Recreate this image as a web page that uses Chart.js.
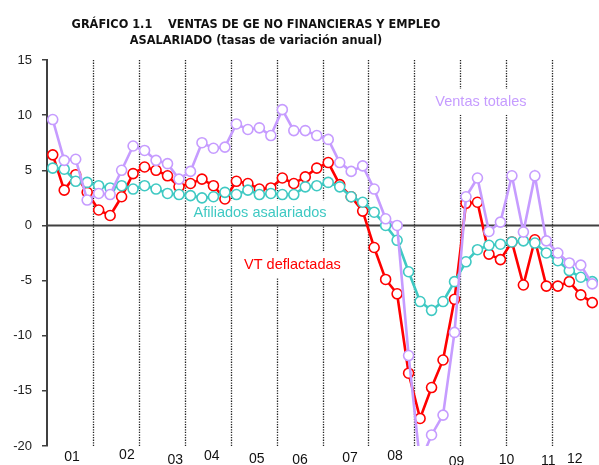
<!DOCTYPE html>
<html>
<head>
<meta charset="utf-8">
<script src="https://cdn.jsdelivr.net/npm/chart.js@4.4.0/dist/chart.umd.min.js"></script>
<style>
  html, body { margin: 0; padding: 0; background: #fff; }
</style>
</head>
<body>
<canvas id="chart" width="599" height="465"></canvas>
<script>
// years shown under the axis, quarterly data 2001-2012
const years = ['01', '02', '03', '04', '05', '06', '07', '08', '09', '10', '11', '12'];
const quarters = [];
years.forEach(y => { for (let q = 1; q <= 4; q++) quarters.push(y + '-T' + q); });

const ventasTotales = [
  9.6, 5.9, 6.0, 2.3,   2.9, 2.8, 5.0, 7.2,   6.8, 5.9, 5.6, 4.2,
  4.9, 7.5, 7.0, 7.1,   9.2, 8.7, 8.85, 8.15, 10.5, 8.6, 8.6, 8.15,
  7.8, 5.7, 4.9, 5.4,   3.3, 0.6, 0.0, -11.8, -21.5, -19.0, -17.2, -9.7,
  2.6, 4.3, -0.55, 0.3, 4.5, -0.6, 4.5, -1.4, -2.5, -3.4, -3.6, -5.3
];
const vtDeflactadas = [
  6.4, 3.2, 4.6, 3.0,   1.4, 0.9, 2.6, 4.7,   5.3, 5.0, 4.5, 3.5,
  3.8, 4.2, 3.6, 2.4,   4.0, 3.8, 3.3, 3.4,   4.3, 3.8, 4.4, 5.2,
  5.7, 3.7, 2.6, 1.3,   -2.0, -4.9, -6.2, -13.4, -17.5, -14.7, -12.2, -6.7,
  2.0, 2.1, -2.6, -3.1, -1.5, -5.4, -1.3, -5.5, -5.5, -5.1, -6.3, -7.0
];
const afiliados = [
  5.2, 5.1, 4.0, 3.9,   3.6, 3.4, 3.6, 3.3,   3.6, 3.3, 2.9, 2.8,
  2.7, 2.5, 2.6, 3.0,   2.8, 3.2, 2.8, 2.9,   2.8, 2.8, 3.5, 3.6,
  3.9, 3.5, 2.6, 2.1,   1.2, 0.0, -1.35, -4.2, -6.9, -7.7, -6.9, -5.1,
  -3.3, -2.2, -1.8, -1.7, -1.5, -1.4, -1.6, -2.5, -3.2, -4.1, -4.7, -5.1
];
const yTicks = [15, 10, 5, 0, -5, -10, -15, -20];

const PURPLE = '#C69CFF';
const RED = '#FF0000';
const CYAN = '#3FC9C3';

// where the year labels sit (quarter index, pixel y) - they are not evenly placed
const yearX = [1.68, 6.46, 10.67, 13.86, 17.78, 21.55, 25.9, 29.81, 35.18, 39.53, 43.16, 45.48];
const yearY = [457, 455, 460, 456, 459, 460, 458, 456, 462, 460, 461, 459];

const seriesLabels = [
  { text: 'Ventas totales', color: PURPLE, x: 37.3, y: 11.2 },
  { text: 'Afiliados asalariados', color: CYAN, x: 18.06, y: 1.1 },
  { text: 'VT deflactadas', color: RED, x: 20.88, y: -3.6 }
];

const decor = {
  id: 'decor',
  beforeDatasetsDraw(chart) {
    const ctx = chart.ctx;
    const area = chart.chartArea;
    const xs = chart.scales.x, ys = chart.scales.y;
    ctx.save();
    // year separators
    ctx.strokeStyle = '#222';
    ctx.lineWidth = 1.3;
    ctx.setLineDash([1.3, 1.3]);
    for (let k = 1; k < years.length; k++) {
      const px = Math.round(xs.getPixelForValue(4 * k - 0.5)) + 0.5;
      ctx.beginPath();
      ctx.moveTo(px, area.top);
      ctx.lineTo(px, area.bottom);
      ctx.stroke();
    }
    ctx.setLineDash([]);
    // series labels on white boxes
    ctx.font = '14.5px "Liberation Sans", Arial, sans-serif';
    ctx.textAlign = 'center';
    ctx.textBaseline = 'middle';
    seriesLabels.forEach(l => {
      const px = xs.getPixelForValue(l.x), py = ys.getPixelForValue(l.y);
      const w = ctx.measureText(l.text).width;
      ctx.fillStyle = '#fff';
      ctx.fillRect(px - w / 2 - 4, py - 13, w + 8, 26);
      ctx.fillStyle = l.color;
      ctx.fillText(l.text, px, py);
    });
    // zero line
    const zy = ys.getPixelForValue(0);
    ctx.strokeStyle = '#404040';
    ctx.lineWidth = 2;
    ctx.beginPath();
    ctx.moveTo(area.left, zy);
    ctx.lineTo(chart.width, zy);
    ctx.stroke();
    ctx.restore();
  },
  afterDraw(chart) {
    const ctx = chart.ctx;
    const xs = chart.scales.x, ys = chart.scales.y;
    ctx.save();
    // the -20 floor cuts the lines off
    const floor = Math.round(ys.getPixelForValue(-20));
    ctx.fillStyle = '#fff';
    ctx.fillRect(ys.right + 2, floor + 1, chart.width, chart.height);
    ctx.fillStyle = '#111';
    ctx.textAlign = 'center';
    ctx.textBaseline = 'middle';
    ctx.font = '14px "Liberation Sans", Arial, sans-serif';
    years.forEach((y, i) => ctx.fillText(y, xs.getPixelForValue(yearX[i]), yearY[i]));
    // title
    ctx.textBaseline = 'alphabetic';
    ctx.font = 'bold 12.6px "DejaVu Sans Condensed", "DejaVu Sans", sans-serif';
    ctx.fillText('GRÁFICO 1.1    VENTAS DE GE NO FINANCIERAS Y EMPLEO', 256, 28);
    ctx.fillText('ASALARIADO (tasas de variación anual)', 256, 44);
    ctx.restore();
  }
};

function line(label, data, color) {
  return {
    label: label,
    data: data,
    borderColor: color,
    borderWidth: 2.6,
    pointRadius: 5,
    pointBorderWidth: 1.6,
    pointBorderColor: color,
    pointBackgroundColor: '#fff',
    tension: 0,
    clip: 0
  };
}

new Chart(document.getElementById('chart'), {
  type: 'line',
  data: {
    labels: quarters,
    datasets: [
      line('Ventas totales', ventasTotales, PURPLE),
      line('Afiliados asalariados', afiliados, CYAN),
      line('VT deflactadas', vtDeflactadas, RED)
    ]
  },
  options: {
    responsive: false,
    animation: false,
    devicePixelRatio: 1,
    layout: { autoPadding: false, padding: { top: 60, bottom: 19, right: 1, left: 0 } },
    plugins: { legend: { display: false }, title: { display: false }, tooltip: { enabled: false } },
    scales: {
      x: { display: false, offset: true },
      y: {
        min: -20,
        max: 15,
        afterBuildTicks: s => { s.ticks = yTicks.map(v => ({ value: v })); },
        afterFit: s => { s.width = 47; },
        grid: { drawOnChartArea: false, tickLength: 5, color: '#404040', lineWidth: 1.5 },
        border: { display: true, color: '#404040', width: 2 },
        ticks: { padding: 10, color: '#222', font: { family: '"Liberation Sans", Arial, sans-serif', size: 13 } }
      }
    }
  },
  plugins: [decor]
});
</script>
</body>
</html>
